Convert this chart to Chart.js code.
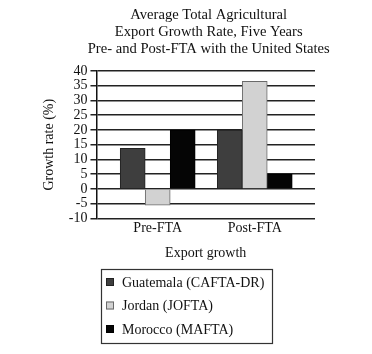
<!DOCTYPE html>
<html>
<head>
<meta charset="utf-8">
<script src="https://cdn.jsdelivr.net/npm/chart.js@4.4.1/dist/chart.umd.min.js"></script>
<style>
  html, body { margin: 0; padding: 0; background: #fff; }
  #wrap { width: 372px; height: 354px; position: relative; }
</style>
</head>
<body>
<div id="wrap"><canvas id="c" width="372" height="354"></canvas></div>
<script>
const titleLines = ['Average Total Agricultural', 'Export Growth Rate, Five Years', 'Pre- and Post-FTA with the United States'];
const categories = ['Pre-FTA', 'Post-FTA'];
const seriesNames = ['Guatemala (CAFTA-DR)', 'Jordan (JOFTA)', 'Morocco (MAFTA)'];
const guatemala = [13.8, 20];
const jordan = [-5.5, 36.5];
const morocco = [20, 5];
const yTicks = [40, 35, 30, 25, 20, 15, 10, 5, 0, -5, -10];
const xTitle = 'Export growth';
const yTitle = 'Growth rate (%)';

const FONT = "'Liberation Serif', 'Times New Roman', serif";
const fills = ['#3e3e3e', '#d2d2d2', '#050505'];
const borders = ['#222', '#6a6a6a', '#000'];

function pts(arr) { return arr.map((v, i) => ({ x: i + 1, y: v })); }

const titleAndLegend = {
  id: 'titleAndLegend',
  afterDraw(chart) {
    const ctx = chart.ctx;
    ctx.save();
    // title
    ctx.font = '14.6px ' + FONT;
    ctx.fillStyle = '#111';
    ctx.textAlign = 'center';
    ctx.textBaseline = 'middle';
    const cx = (chart.chartArea.left + chart.chartArea.right) / 2 + 3;
    titleLines.forEach((t, i) => ctx.fillText(t, cx, 15 + i * 17));
    // legend
    const left = 101, top = 269, w = 171, h = 74;
    ctx.strokeStyle = '#333';
    ctx.lineWidth = 1.2;
    ctx.strokeRect(left + 0.5, top + 0.5, w, h);
    ctx.font = '14px ' + FONT;
    ctx.textAlign = 'left';
    chart.data.datasets.forEach((ds, i) => {
      const cy = top + 13 + i * 23.5;
      ctx.fillStyle = ds.backgroundColor;
      ctx.fillRect(left + 5, cy - 4, 8, 8);
      ctx.strokeStyle = ds.borderColor;
      ctx.lineWidth = 1;
      ctx.strokeRect(left + 5.5, cy - 3.5, 7, 7);
      ctx.fillStyle = '#111';
      ctx.fillText(ds.label, left + 21, cy + 1);
    });
    ctx.restore();
  }
};

const series = [guatemala, jordan, morocco];
new Chart(document.getElementById('c'), {
  type: 'bar',
  data: {
    datasets: series.map((s, i) => ({
      label: seriesNames[i],
      data: pts(s),
      backgroundColor: fills[i],
      borderColor: borders[i],
      borderWidth: 1,
      barThickness: 25
    }))
  },
  options: {
    responsive: false,
    animation: false,
    devicePixelRatio: 1,
    layout: { padding: { left: 41, right: 57, top: 71, bottom: 92 } },
    plugins: {
      legend: { display: false },
      tooltip: { enabled: false },
      title: { display: false }
    },
    scales: {
      x: {
        type: 'linear',
        offset: false,
        min: 0.369,
        max: 2.621,
        afterBuildTicks: (scale) => { scale.ticks = categories.map((c, i) => ({ value: i + 1 })); },
        ticks: {
          callback: (v) => categories[Math.round(v) - 1] || '',
          color: '#111',
          font: { family: FONT, size: 14 },
          padding: 2,
          maxRotation: 0,
          autoSkip: false
        },
        grid: { display: false, drawTicks: false },
        border: { display: false },
        title: {
          display: true,
          text: xTitle,
          color: '#111',
          font: { family: FONT, size: 14 },
          padding: { top: 6, bottom: 0 }
        }
      },
      y: {
        min: -10,
        max: 40,
        afterBuildTicks: (scale) => { scale.ticks = yTicks.map(v => ({ value: v })); },
        ticks: {
          color: '#111',
          font: { family: FONT, size: 14 },
          padding: 3,
          autoSkip: false,
          callback: (v) => String(v)
        },
        grid: {
          color: '#222',
          lineWidth: 1.5,
          tickLength: 6,
          tickColor: '#222'
        },
        border: { display: true, color: '#111', width: 1.5 },
        title: {
          display: true,
          text: yTitle,
          color: '#111',
          font: { family: FONT, size: 14 },
          padding: { top: 0, bottom: 8 }
        }
      }
    }
  },
  plugins: [titleAndLegend]
});
</script>
</body>
</html>
